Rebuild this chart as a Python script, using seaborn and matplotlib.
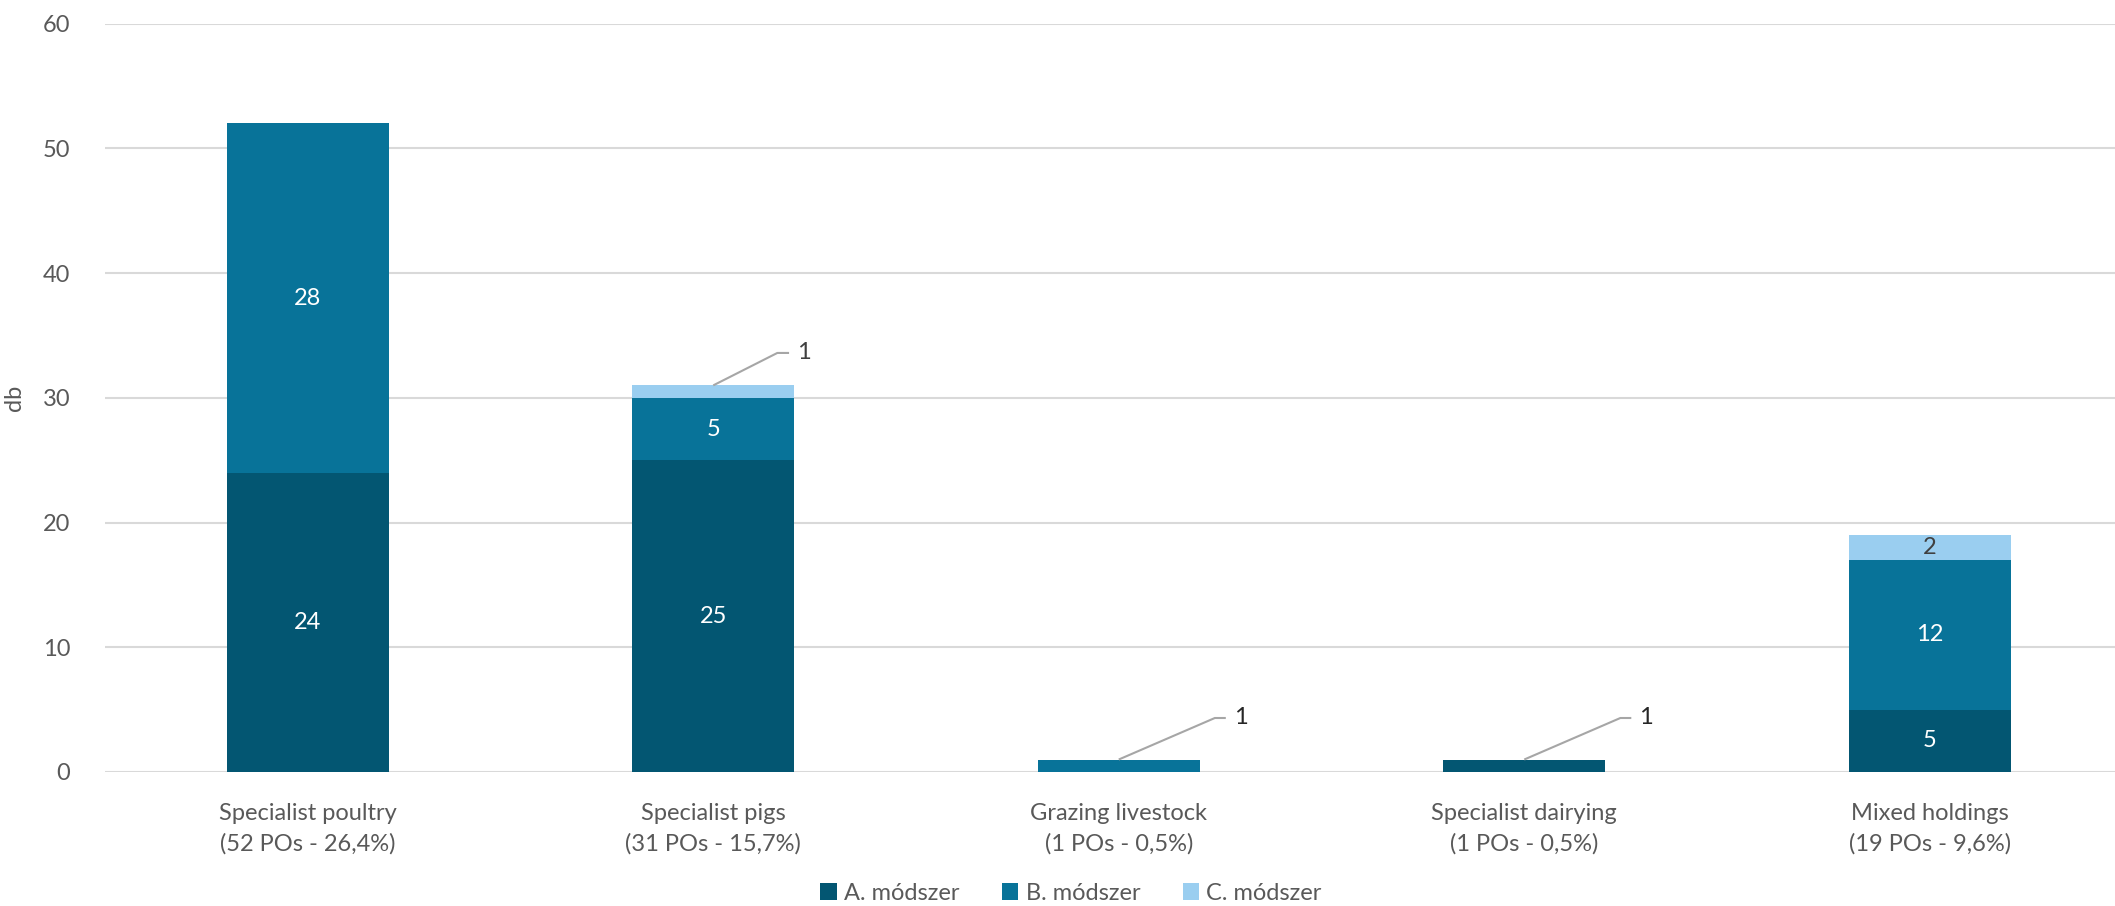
import matplotlib
matplotlib.use("Agg")
import matplotlib.pyplot as plt
import seaborn as sns
import numpy as np
import pandas as pd
from matplotlib.patches import Patch

categories = ["Specialist poultry\n(52 POs - 26,4%)",
              "Specialist pigs\n(31 POs - 15,7%)",
              "Grazing livestock\n(1 POs - 0,5%)",
              "Specialist dairying\n(1 POs - 0,5%)",
              "Mixed holdings\n(19 POs - 9,6%)"]
method_a = [24, 25, 0, 1, 5]
method_b = [28, 5, 1, 0, 12]
method_c = [0, 1, 0, 0, 2]
series_names = ["A. módszer", "B. módszer", "C. módszer"]
colors = ["#035672", "#087399", "#9ACEF0"]
y_ticks = [0, 10, 20, 30, 40, 50, 60]

sns.set_theme(style="white")
plt.rcParams['font.family'] = ['Lato', 'DejaVu Sans']
FS = 17
TXT = "#595959"

fig = plt.figure(figsize=(21.15, 9.06), dpi=100)
ax = fig.add_axes([105/2115, 1-772/906, 1-105/2115, (772-23.7)/906])

df = pd.DataFrame({"cat": categories, "A": method_a, "B": method_b, "C": method_c})
df["AB"] = df["A"] + df["B"]
df["ABC"] = df["AB"] + df["C"]

for col, c in [("ABC", colors[2]), ("AB", colors[1]), ("A", colors[0])]:
    sns.barplot(data=df, x="cat", y=col, color=c, width=0.4, ax=ax,
                linewidth=0, saturation=1, order=categories)

ax.set_xlim(-0.5, -0.5 + (2115-105)/405.5)
ax.set_ylim(0, 60)
ax.set_yticks(y_ticks)
ax.set_yticklabels([str(t) for t in y_ticks])
ax.set_xticks(range(len(categories)))
ax.set_xticklabels(categories, linespacing=1.55)
ax.yaxis.grid(True, color="#d9d9d9", linewidth=1.5)
ax.set_axisbelow(True)
for s in ax.spines.values():
    s.set_visible(False)
ax.tick_params(axis="both", length=0, labelsize=FS, colors=TXT)
ax.tick_params(axis="y", pad=25)
ax.tick_params(axis="x", pad=22)
ax.set_xlabel("")
ax.set_ylabel("db", fontsize=FS, color=TXT)
ax.yaxis.set_label_coords(-80/2010, 0.5)

# labels inside segments
for i in range(len(categories)):
    a, b, c = method_a[i], method_b[i], method_c[i]
    segs = [(a, 0, "white"), (b, a, "white"), (c, a + b, "#404040")]
    for v, base, tc in segs:
        if v <= 0:
            continue
        if v >= 2:
            ax.text(i, base + v / 2, str(v), ha="center", va="center",
                    fontsize=FS, color=tc)
        else:
            top = base + v
            if i == 1:
                dx1, ly, dx2, dxt = 0.158, 33.6, 0.187, 0.224
            else:
                dx1, ly, dx2, dxt = 0.237, 4.33, 0.264, 0.30
            ax.plot([i, i + dx1, i + dx2], [top, ly, ly], color="#a6a6a6",
                    linewidth=1.5, solid_capstyle="butt")
            ax.text(i + dxt, ly, str(v), ha="center", va="center",
                    fontsize=FS, color="#262626" if i != 1 else "#404040")

handles = [Patch(facecolor=colors[k], edgecolor="none", label=series_names[k]) for k in range(3)]
fig.legend(handles=handles, loc="center", bbox_to_anchor=(1071/2115, 1-893/906),
           ncol=3, frameon=False, fontsize=FS, handlelength=0.7, handleheight=0.7,
           handletextpad=0.3, columnspacing=1.8, labelcolor=TXT)

fig.savefig("out.png", dpi=100)
